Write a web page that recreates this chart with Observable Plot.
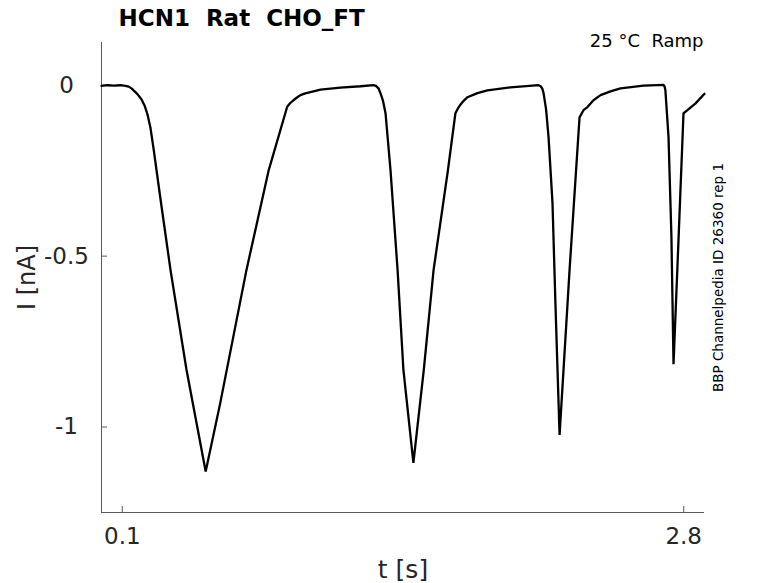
<!DOCTYPE html>
<html><head><meta charset="utf-8">
<script src="https://cdn.jsdelivr.net/npm/d3@7"></script>
<script src="https://cdn.jsdelivr.net/npm/@observablehq/plot@0.6"></script>
<style>
html,body{margin:0;padding:0;background:#fff;}
svg text{white-space:pre;}
</style></head><body><div id="chart"></div>
<script>
// time (s)
const timeS = [
  0.000, 0.030, 0.060, 0.090, 0.115, 0.131, 0.146,
  0.154, 0.173, 0.192, 0.207, 0.221, 0.235, 0.250, 0.283, 0.332, 0.409, 0.501,
  0.571, 0.697, 0.804, 0.893, 0.908, 0.923, 0.940, 0.957, 0.980, 1.005, 1.053, 1.149, 1.246, 1.308,
  1.320, 1.332, 1.342, 1.354, 1.366, 1.390, 1.424, 1.452, 1.500,
  1.550, 1.597, 1.666, 1.702, 1.714, 1.727, 1.743, 1.760, 1.808, 1.856, 1.967, 2.102,
  2.112, 2.120, 2.126, 2.138, 2.150, 2.169, 2.183, 2.203,
  2.251, 2.299, 2.318, 2.337, 2.366, 2.400, 2.448, 2.496, 2.607, 2.703,
  2.708, 2.712, 2.727, 2.741, 2.751,
  2.775, 2.799, 2.818, 2.857, 2.900
];
// current (nA)
const currentNA = [
  -0.002, 0.000, -0.001, 0.000, -0.002, -0.004, -0.010,
  -0.015, -0.026, -0.041, -0.059, -0.085, -0.123, -0.184, -0.330, -0.541, -0.833, -1.130,
  -0.930, -0.541, -0.249, -0.063, -0.052, -0.044, -0.036, -0.029, -0.024, -0.020, -0.013, -0.007, -0.003, 0.000,
  -0.002, -0.009, -0.024, -0.046, -0.082, -0.249, -0.541, -0.833, -1.105,
  -0.833, -0.541, -0.249, -0.082, -0.068, -0.056, -0.045, -0.035, -0.023, -0.015, -0.006, 0.000,
  -0.003, -0.010, -0.023, -0.070, -0.152, -0.345, -0.637, -1.023,
  -0.541, -0.094, -0.073, -0.064, -0.044, -0.029, -0.018, -0.009, -0.001, 0.001,
  -0.004, -0.015, -0.152, -0.444, -0.816,
  -0.453, -0.082, -0.073, -0.053, -0.025
];
const xTicks = [0.1, 2.8];
const xTickLabels = ["0.1", "2.8"];
const yTicks = [0, -0.5, -1];
const yTickLabels = ["0", "-0.5", "-1"];
const titleText = "HCN1  Rat  CHO_FT";
const conditionText = "25 °C  Ramp";
const sideText = "BBP Channelpedia ID 26360 rep 1";
const xLabel = "t [s]";
const yLabel = "I [nA]";

const trace = timeS.map((t, i) => ({t, I: currentNA[i]}));
const ink = "#262626";
const axisGray = "#5a5a5a";

const chart = Plot.plot({
  width: 778, height: 583,
  marginLeft: 101, marginRight: 74, marginTop: 42, marginBottom: 71,
  style: {fontFamily: "'DejaVu Sans', sans-serif", background: "#fff", color: ink},
  x: {domain: [0, 2.9]},
  y: {domain: [-1.25, 0.125]},
  marks: [
    Plot.ruleX([0], {stroke: axisGray, strokeWidth: 1}),
    Plot.ruleY([-1.25], {stroke: axisGray, strokeWidth: 1}),
    Plot.axisX({ticks: xTicks, tickSize: -6, tickFormat: () => "", label: null, stroke: axisGray}),
    Plot.axisX({ticks: xTicks, tickSize: 0, tickPadding: 15, fontSize: 23, fill: ink, label: null,
      tickFormat: d => xTickLabels[xTicks.indexOf(d)]}),
    Plot.axisY({ticks: yTicks, tickSize: -6, tickFormat: () => "", label: null, stroke: axisGray}),
    Plot.axisY({ticks: yTicks, tickSize: 0, tickPadding: 35, textAnchor: "middle", fontSize: 23, fill: ink, label: null,
      tickFormat: d => yTickLabels[yTicks.indexOf(d)]}),
    Plot.line(trace, {x: "t", y: "I", stroke: "#000", strokeWidth: 2.3, strokeLinejoin: "miter"}),
    Plot.text([titleText], {text: d => d, frameAnchor: "top-left", textAnchor: "start", lineAnchor: "middle",
      dx: 17, dy: -23.5, fontSize: 23, fontWeight: "bold", fill: "#000"}),
    Plot.text([conditionText], {text: d => d, frameAnchor: "top-right", textAnchor: "end", lineAnchor: "middle",
      dx: -1, dy: -1, fontSize: 18, fill: "#000"}),
    Plot.text([sideText], {text: d => d, frameAnchor: "right", textAnchor: "middle", lineAnchor: "middle",
      rotate: -90, dx: 14, fontSize: 13.5, fill: "#000"}),
    Plot.text([yLabel], {text: d => d, frameAnchor: "left", textAnchor: "middle", lineAnchor: "middle",
      rotate: -90, dx: -74, fontSize: 24, fill: ink}),
    Plot.text([xLabel], {text: d => d, frameAnchor: "bottom", textAnchor: "middle", lineAnchor: "middle",
      dy: 57, fontSize: 25, fill: ink})
  ]
});
document.getElementById("chart").appendChild(chart);
</script></body></html>
